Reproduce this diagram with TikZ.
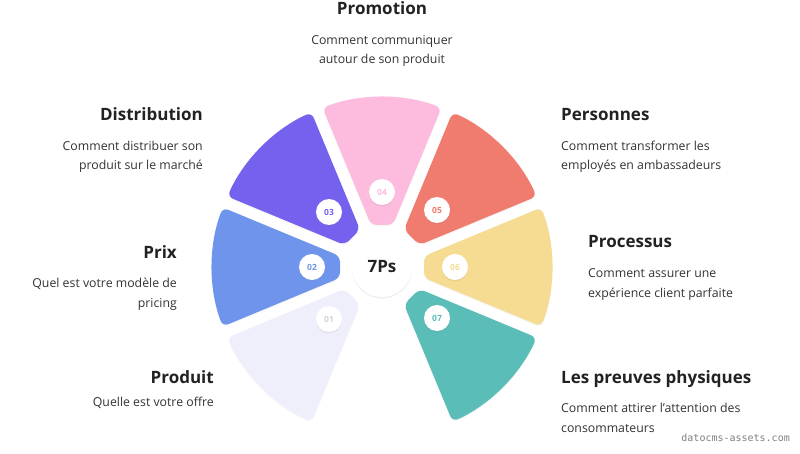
\documentclass[tikz,border=0pt]{standalone}
\usepackage{fontspec}
\setmainfont{Open Sans}
\setmonofont{DejaVu Sans Mono}
\usepackage{tikz}
\usetikzlibrary{shadows}
\usepackage{xcolor}

\definecolor{pone}{HTML}{EFEFFC}
\definecolor{ptwo}{HTML}{6E95EB}
\definecolor{pthree}{HTML}{7462EE}
\definecolor{pfour}{HTML}{FDBBDD}
\definecolor{pfive}{HTML}{F07B6F}
\definecolor{psix}{HTML}{F5DC92}
\definecolor{pseven}{HTML}{5BBDB7}
\definecolor{titletext}{HTML}{222222}
\definecolor{bodytext}{HTML}{333333}

\begin{document}
\begin{tikzpicture}[x=1pt,y=1pt,
  wedge/.style={rounded corners=6pt,shift={(382,186)},
    drop shadow={shadow xshift=0pt,shadow yshift=-1.5pt,opacity=0.06}},
  badge/.style={circle,fill=white,minimum size=26pt,inner sep=0pt,
    font=\fontsize{8.5}{10}\selectfont\bfseries,
    drop shadow={shadow xshift=0pt,shadow yshift=-1.5pt,opacity=0.12}},
  ptitle/.style={inner sep=0pt,text=titletext,font=\fontsize{17}{20}\selectfont\bfseries},
  pbody/.style={inner sep=0pt,text=bodytext,font=\fontsize{12.3}{19.5}\selectfont}]
\useasboundingbox[fill=white] (0,0) rectangle (800,453);

% the seven wedges
\fill[wedge,fill=pone,rotate=225] (42,-10.9) -- (159.26,-59.47) arc[start angle=-20.48,end angle=20.48,radius=170] -- (42,10.9) -- cycle;
\fill[wedge,fill=ptwo,rotate=180] (42,-10.9) -- (159.26,-59.47) arc[start angle=-20.48,end angle=20.48,radius=170] -- (42,10.9) -- cycle;
\fill[wedge,fill=pthree,rotate=135] (42,-10.9) -- (159.26,-59.47) arc[start angle=-20.48,end angle=20.48,radius=170] -- (42,10.9) -- cycle;
\fill[wedge,fill=pfour,rotate=90] (42,-10.9) -- (159.26,-59.47) arc[start angle=-20.48,end angle=20.48,radius=170] -- (42,10.9) -- cycle;
\fill[wedge,fill=pfive,rotate=45] (42,-10.9) -- (159.26,-59.47) arc[start angle=-20.48,end angle=20.48,radius=170] -- (42,10.9) -- cycle;
\fill[wedge,fill=psix,rotate=0] (42,-10.9) -- (159.26,-59.47) arc[start angle=-20.48,end angle=20.48,radius=170] -- (42,10.9) -- cycle;
\fill[wedge,fill=pseven,rotate=-45] (42,-10.9) -- (159.26,-59.47) arc[start angle=-20.48,end angle=20.48,radius=170] -- (42,10.9) -- cycle;

% centre and number badges
\node[circle,fill=white,minimum size=60pt,inner sep=0pt,text=titletext,
  font=\fontsize{17}{20}\selectfont\bfseries,
  drop shadow={shadow xshift=0pt,shadow yshift=-1.5pt,opacity=0.12}] (ps) at (382,186) {7Ps};
\node[badge,text=pone!75!gray] (b01) at (329,134) {01};
\node[badge,text=ptwo] (b02) at (312,186) {02};
\node[badge,text=pthree] (b03) at (329,241) {03};
\node[badge,text=pfour] (b04) at (382,261) {04};
\node[badge,text=pfive] (b05) at (437,243) {05};
\node[badge,text=psix] (b06) at (455,186) {06};
\node[badge,text=pseven] (b07) at (437,135) {07};

% labels (body nodes sit on their last baseline)
\node[ptitle,anchor=base] (tpromo) at (382,438) {Promotion};
\node[pbody,anchor=base,align=center] (dpromo) at (382,389) {Comment communiquer\\autour de son produit};
\node[ptitle,anchor=base east] (tdistri) at (203,332) {Distribution};
\node[pbody,anchor=base east,align=right] (ddistri) at (203,283) {Comment distribuer son\\produit sur le marché};
\node[ptitle,anchor=base east] (tprix) at (177,195) {Prix};
\node[pbody,anchor=base east,align=right] (dprix) at (177,146) {Quel est votre modèle de\\pricing};
\node[ptitle,anchor=base east] (tproduit) at (214,70) {Produit};
\node[pbody,anchor=base east,align=right] (dproduit) at (214,47) {Quelle est votre offre};
\node[ptitle,anchor=base west] (tpers) at (561,332) {Personnes};
\node[pbody,anchor=base west,align=left] (dpers) at (561,283) {Comment transformer les\\employés en ambassadeurs};
\node[ptitle,anchor=base west] (tproc) at (588,206) {Processus};
\node[pbody,anchor=base west,align=left] (dproc) at (588,156) {Comment assurer une\\expérience client parfaite};
\node[ptitle,anchor=base west] (tpreuves) at (561,70) {Les preuves physiques};
\node[pbody,anchor=base west,align=left] (dpreuves) at (561,21) {Comment attirer l’attention des\\consommateurs};
\node[inner sep=0pt,anchor=base east,text=gray,font=\ttfamily\fontsize{10}{11}\selectfont] (src) at (790,12) {datocms-assets.com};
\end{tikzpicture}
\end{document}
